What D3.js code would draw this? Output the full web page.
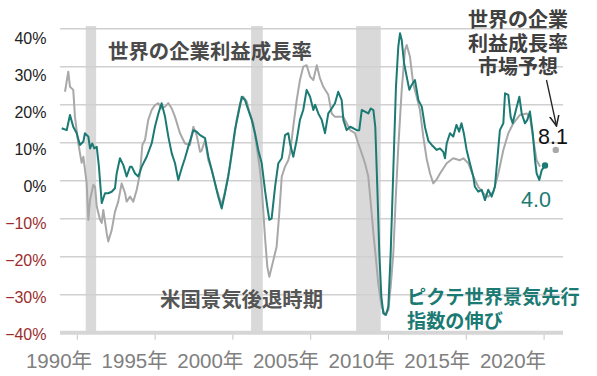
<!DOCTYPE html>
<html><head><meta charset="utf-8">
<script src="https://cdn.jsdelivr.net/npm/d3@7"></script>
<style>body{margin:0;background:#fff}svg{display:block}</style>
</head><body>
<svg id="c" width="597" height="376"></svg>
<script>
// ---- data ----
const yTicks = [40, 30, 20, 10, 0, -10, -20, -30, -40];
const xTickYears = [1990, 1995, 2000, 2005, 2010, 2015, 2020];
const xTickLabels = ["1990年","1995年","2000年","2005年","2010年","2015年","2020年"];
const recessionStart = [1990.54, 2001.17, 2007.92];
const recessionEnd   = [1991.21, 2001.92, 2009.50];

const profitYears = [1989.21,1989.42,1989.53,1989.74,1989.85,1990.06,1990.28,1990.39,1990.60,1990.71,1990.82,1991.03,1991.14,1991.25,1991.46,1991.57,1991.67,1991.89,1991.99,1992.21,1992.42,1992.63,1992.85,1993.07,1993.17,1993.39,1993.60,1993.82,1994.03,1994.18,1994.35,1994.56,1994.78,1994.99,1995.21,1995.42,1995.64,1995.85,1996.07,1996.28,1996.60,1996.92,1997.24,1997.46,1997.67,1997.89,1997.99,1998.21,1998.42,1998.64,1998.96,1999.28,1999.49,1999.81,2000.03,2000.24,2000.46,2000.67,2000.89,2001.10,2001.31,2001.53,2001.74,2001.85,2001.95,2002.06,2002.21,2002.34,2002.60,2002.81,2002.98,2003.14,2003.35,2003.56,2003.67,2003.88,2004.10,2004.31,2004.52,2004.74,2004.96,2005.17,2005.39,2005.60,2005.81,2006.13,2006.35,2006.56,2006.88,2007.10,2007.31,2007.53,2007.85,2008.06,2008.28,2008.49,2008.70,2008.86,2009.03,2009.20,2009.34,2009.56,2009.78,2009.99,2010.14,2010.31,2010.48,2010.63,2010.85,2011.06,2011.17,2011.38,2011.59,2011.81,2012.02,2012.24,2012.45,2012.67,2012.88,2013.12,2013.31,2013.74,2014.16,2014.59,2014.81,2015.13,2015.45,2015.77,2016.09,2016.41,2016.74,2017.06,2017.38,2017.70,2018.02,2018.45,2018.88,2019.09,2019.31,2019.52,2019.74];
const profitValues = [23.4,28.7,24.7,23.9,16.8,9.9,4.7,6.3,-0.6,-10.3,-5,-1.1,-1.6,-6.8,-10.3,-11.1,-7.7,-13.8,-16,-13,-8.2,-5.5,-0.7,-3.3,-5.5,-4.2,-5.5,-2.4,1.9,9.4,10.7,16,18.6,19.9,20.4,19,19.5,20.4,19,16.8,12.5,9.8,9.4,14.2,12,7.6,7.9,10.7,5.4,2.8,-2.4,-6.4,-2.9,3.7,9.8,16,20.4,22.1,20.8,17.7,15.1,8.9,2.8,-1.6,-7.7,-14.7,-22.6,-25.3,-20.9,-17.4,-8.6,1.1,3.7,5.4,7.2,14.2,21.2,26.5,30,30.4,27.4,26.5,30.4,26.9,24.7,22.6,17.7,16.8,16.8,16.8,15.1,13.3,12.5,9.8,7.2,4.6,1.1,-5.9,-13.8,-20.9,-27,-33.2,-35.3,-34,-27.9,-19.1,-3.3,8.9,23.9,34.4,35.7,32.6,25.5,22.1,18.6,11.5,5.8,1.9,-0.7,0.5,1.9,4.6,5.9,5.4,5.9,4.6,1.1,-1.6,-3.3,-4.2,-2.9,1.9,8.1,12.5,15.1,17.3,17.7,16.8,10.7,5.4,3.7];

const leadingYears = [1989.00,1989.32,1989.53,1989.74,1989.96,1990.17,1990.39,1990.49,1990.71,1990.82,1990.96,1991.09,1991.25,1991.39,1991.57,1991.78,1991.99,1992.21,1992.42,1992.53,1992.74,1992.96,1993.17,1993.39,1993.50,1993.71,1993.92,1994.14,1994.46,1994.78,1994.99,1995.21,1995.42,1995.64,1995.85,1996.07,1996.28,1996.49,1996.71,1996.92,1997.13,1997.46,1997.67,1997.89,1998.21,1998.42,1998.64,1998.85,1999.06,1999.28,1999.49,1999.70,1999.92,2000.13,2000.35,2000.57,2000.78,2000.99,2001.21,2001.42,2001.63,2001.85,2002.06,2002.21,2002.34,2002.49,2002.71,2002.92,2003.14,2003.35,2003.56,2003.67,2003.88,2004.10,2004.31,2004.52,2004.74,2004.96,2005.17,2005.28,2005.49,2005.71,2005.92,2006.13,2006.35,2006.56,2006.77,2006.99,2007.10,2007.31,2007.53,2007.74,2007.96,2008.12,2008.28,2008.49,2008.70,2008.86,2009.03,2009.15,2009.28,2009.41,2009.54,2009.67,2009.84,2009.99,2010.14,2010.31,2010.48,2010.63,2010.74,2010.85,2011.00,2011.17,2011.34,2011.49,2011.70,2011.92,2012.14,2012.35,2012.56,2012.78,2013.10,2013.31,2013.52,2013.63,2013.74,2013.95,2014.16,2014.37,2014.54,2014.69,2014.84,2015.02,2015.23,2015.45,2015.55,2015.77,2015.99,2016.20,2016.41,2016.63,2016.84,2016.99,2017.16,2017.38,2017.49,2017.70,2017.85,2017.98,2018.19,2018.41,2018.56,2018.77,2018.92,2019.09,2019.27,2019.42,2019.52,2019.69,2019.85,2020.06];
const leadingValues = [13.8,13.3,17.3,14.2,12.5,9.4,10.3,12.5,11.6,8.5,9.8,8.5,8.9,3.7,-5.9,-3.3,-3.3,-2.9,-2,1.9,5.9,4.1,1.1,3.7,3.7,1.9,1.1,3.7,6.3,9.8,14.2,17.7,20.4,16.8,11.6,7.2,4.6,0.2,3.3,5.9,8.9,13.3,12.9,12,11.2,6.3,2.8,-0.7,-4.2,-7.3,-3.3,1.1,7.2,13.3,17.7,22.1,21.2,18.6,16,12.5,8.1,4.6,-2.4,-6.8,-10.3,-9.9,-1.6,4.6,5.9,12,12.5,9.8,6.3,10.7,16,18.6,23.9,22.1,18.6,20,17.7,16,12.5,17.7,19,20.4,23.4,21.2,16,13.3,14.2,13.8,13.3,13.3,18.6,18.2,17.7,19,18.6,14.2,-1.6,-19.1,-30.5,-34.9,-35.3,-33.2,-19.1,2.8,24.7,35.3,38.8,37,30.9,27.4,23.9,25.2,26.5,21.2,19.5,14,10.5,9.4,8.1,8.5,7.6,5.9,9.8,12.5,11.6,14.7,12.9,15.1,12.5,8.1,4.6,1.1,-1.6,-2.9,-2.4,-5.1,-2.4,-4.2,-1.6,5.4,13.3,15.1,23,22.6,16.8,15.1,18.6,22.1,17.7,15.1,16,18.2,12.5,5.4,1.9,0.2,2.8,4.0];

const forecastYear = 2020.75;
const forecastValue = 8.1;
const lastLeadingLabel = "4.0";
const forecastLabel = "8.1";

// ---- scales ----
const svg = d3.select("#c");
const x = d3.scaleLinear().domain([1990, 2020]).range([77.3, 544.1]);
const y = d3.scaleLinear().domain([-40, 40]).range([332.7, 28.7]);
const yLabel = d3.scaleLinear().domain([-40, 40]).range([334, 38]);
const xLabel = d3.scaleLinear().domain([1990, 2020]).range([59, 513]);
const plotL = 60, plotR = 563;

const teal = "#1b7a73", grey = "#a8a8a8";

// recession bands
svg.append("g").selectAll("rect").data(recessionStart).join("rect")
  .attr("x", (d) => x(d))
  .attr("width", (d, i) => x(recessionEnd[i]) - x(d))
  .attr("y", 26).attr("height", y(-40) - 26)
  .attr("fill", "#d9d9d9");

// gridlines
svg.append("g").selectAll("line").data(yTicks.filter(v => v !== -40)).join("line")
  .attr("x1", plotL).attr("x2", plotR)
  .attr("y1", d => y(d)).attr("y2", d => y(d))
  .attr("stroke", "#d0d0d0").attr("stroke-width", 1.6);

// bottom axis
svg.append("line").attr("x1", plotL).attr("x2", plotR)
  .attr("y1", y(-40)).attr("y2", y(-40))
  .attr("stroke", "#d6d6d6").attr("stroke-width", 4);
svg.append("g").selectAll("line").data(xTickYears).join("line")
  .attr("x1", d => x(d)).attr("x2", d => x(d))
  .attr("y1", y(-40) + 2).attr("y2", y(-40) + 7)
  .attr("stroke", "#c4c4c4").attr("stroke-width", 1);

// y labels
svg.append("g").selectAll("text").data(yTicks).join("text")
  .attr("x", 46.5).attr("y", d => yLabel(d))
  .attr("text-anchor", "end").attr("dominant-baseline", "central")
  .attr("font-family", "Liberation Sans, Arial, sans-serif").attr("font-size", 16)
  .attr("fill", d => d < 0 ? "#9b2d2d" : "#222")
  .text(d => (d < 0 ? "−" + Math.abs(d) : d) + "%");

// x labels
svg.append("g").selectAll("text").data(xTickYears).join("text")
  .attr("x", d => xLabel(d)).attr("y", 360)
  .attr("text-anchor", "middle").attr("dominant-baseline", "central")
  .attr("font-family", "Liberation Sans, 'Noto Sans CJK JP', sans-serif").attr("font-size", 20.5)
  .attr("fill", "#808080")
  .text((d, i) => xTickLabels[i]);

// lines
const profitData = profitYears.map((t, i) => [t, profitValues[i]]);
const leadingData = leadingYears.map((t, i) => [t, leadingValues[i]]);
const line = d3.line().x(d => x(d[0])).y(d => y(d[1])).curve(d3.curveLinear);

svg.append("path").datum(profitData).attr("d", line)
  .attr("fill", "none").attr("stroke", grey).attr("stroke-width", 2).attr("stroke-linejoin", "round");
svg.append("path").datum(leadingData).attr("d", line)
  .attr("fill", "none").attr("stroke", teal).attr("stroke-width", 2).attr("stroke-linejoin", "round");

// end dots
const lastL = leadingData[leadingData.length - 1];
svg.append("circle").attr("cx", x(lastL[0])).attr("cy", y(lastL[1])).attr("r", 3.2).attr("fill", teal);
svg.append("circle").attr("cx", x(forecastYear)).attr("cy", y(forecastValue)).attr("r", 3.2).attr("fill", grey);

// annotations
const jp = "'Noto Sans CJK JP', sans-serif";
svg.append("text").attr("x", 108).attr("y", 50).attr("dominant-baseline", "central")
  .attr("font-family", jp).attr("font-weight", "bold").attr("font-size", 20.4)
  .attr("fill", "#4a4a4a").text("世界の企業利益成長率");
svg.append("text").attr("x", 160).attr("y", 298).attr("dominant-baseline", "central")
  .attr("font-family", jp).attr("font-weight", "bold").attr("font-size", 20.4)
  .attr("fill", "#555").text("米国景気後退時期");
const tl = svg.append("text").attr("font-family", jp).attr("font-weight", "bold")
  .attr("font-size", 19.2).attr("fill", teal);
tl.append("tspan").attr("x", 407).attr("y", 296).attr("dominant-baseline", "central").text("ピクテ世界景気先行");
tl.append("tspan").attr("x", 407).attr("y", 320).attr("dominant-baseline", "central").text("指数の伸び");

const tr = svg.append("text").attr("font-family", jp).attr("font-weight", "bold")
  .attr("font-size", 20).attr("fill", "#404040").attr("text-anchor", "middle");
[["世界の企業", 18], ["利益成長率", 42], ["市場予想", 65]].forEach(([t, yy]) =>
  tr.append("tspan").attr("x", 518).attr("y", yy).attr("dominant-baseline", "central").text(t));

// arrow
const defs = svg.append("defs");
defs.append("marker").attr("id", "ah").attr("viewBox", "0 0 10 10").attr("refX", 9).attr("refY", 5)
  .attr("markerWidth", 9).attr("markerHeight", 9).attr("orient", "auto")
  .append("path").attr("d", "M0,1 L9,5 L0,9").attr("fill", "none").attr("stroke", "#222").attr("stroke-width", 1.3);
svg.append("line").attr("x1", 546.5).attr("y1", 80).attr("x2", 556.5).attr("y2", 126)
  .attr("stroke", "#222").attr("stroke-width", 1.3).attr("marker-end", "url(#ah)");

svg.append("text").attr("x", 553).attr("y", 137).attr("text-anchor", "middle").attr("dominant-baseline", "central")
  .attr("font-family", "Liberation Sans, Arial, sans-serif").attr("font-size", 21.5).attr("fill", "#111")
  .text(forecastLabel);
svg.append("text").attr("x", 536).attr("y", 200).attr("text-anchor", "middle").attr("dominant-baseline", "central")
  .attr("font-family", "Liberation Sans, Arial, sans-serif").attr("font-size", 21.5).attr("fill", teal)
  .text(lastLeadingLabel);
</script>
</body></html>
